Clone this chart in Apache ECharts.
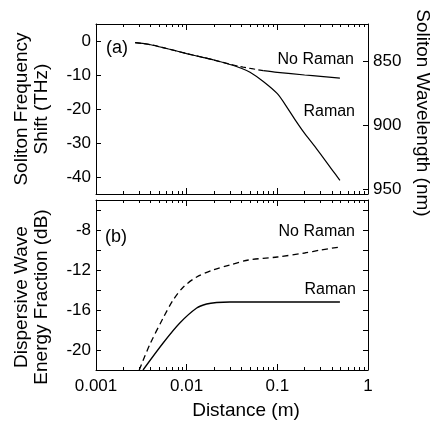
<!DOCTYPE html>
<html><head><meta charset="utf-8">
<script src="https://cdn.jsdelivr.net/npm/echarts@6/dist/echarts.min.js"></script>
<style>html,body{margin:0;padding:0;background:#fff}#c{width:430px;height:422px}</style>
</head><body><div id="c"></div>
<script>
// ---- tick values / labels ----
const distTicks = [0.001, 0.01, 0.1, 1];
const freqTicks = [0, -10, -20, -30, -40];
const wavelengthTicks = [850, 900, 950];
const energyTicks = [-20, -16, -12, -8];
const energyMinorTicks = [-22, -20, -18, -16, -14, -12, -10, -8, -6];

// ---- (a) soliton frequency shift (THz) vs distance (m) ----
const topRamanD = [0.0027, 0.004, 0.006, 0.01, 0.015, 0.02, 0.03, 0.04, 0.05, 0.07, 0.1, 0.13, 0.16, 0.2, 0.25, 0.3, 0.4, 0.49];
const topRamanV = [-0.5, -1.1, -2.2, -3.7, -4.8, -5.6, -6.9, -8.0, -9.2, -11.9, -15.5, -19.8, -23.5, -27.2, -30.5, -33.3, -37.8, -41.0];
const topNoRamanD = [0.0027, 0.004, 0.006, 0.01, 0.015, 0.02, 0.03, 0.042, 0.07, 0.1, 0.2, 0.3, 0.49];
const topNoRamanV = [-0.5, -1.1, -2.2, -3.7, -4.8, -5.6, -6.8, -7.7, -8.7, -9.2, -10.0, -10.4, -10.9];

// ---- (b) dispersive wave energy fraction (dB) vs distance (m) ----
const botNoRamanD = [0.003, 0.0039, 0.0055, 0.0071, 0.0092, 0.0129, 0.0196, 0.03, 0.048, 0.1, 0.2, 0.3, 0.49];
const botNoRamanV = [-22.0, -19.5, -16.8, -15.0, -13.7, -12.7, -12.0, -11.5, -11.0, -10.7, -10.3, -10.0, -9.7];
const botRamanD = [0.0033, 0.0055, 0.0084, 0.0129, 0.0166, 0.0214, 0.03, 0.1, 0.49];
const botRamanV = [-22.0, -19.3, -17.3, -15.8, -15.4, -15.25, -15.2, -15.2, -15.2];

const pairs = (xs, ys) => xs.map((x, i) => [x, ys[i]]);

// minor log tick positions (log10 space) for tick-only axes
const minorLog = [];
for (let n = -3; n < 0; n++) for (let k = 2; k <= 9; k++) minorLog.push(Math.log10(k * Math.pow(10, n)));

const FONT = '"Liberation Sans", Arial, Helvetica, sans-serif';
const lineSt = { color: '#000', width: 1 };
const axisLineOn = { show: true, onZero: false, lineStyle: lineSt };
const nameSt = { color: '#000', fontSize: 19, fontFamily: FONT, lineHeight: 20 };

function majorX(grid, pos, labels) {
  const ax = {
    gridIndex: grid, type: 'log', logBase: 10, min: distTicks[0], max: distTicks[distTicks.length - 1],
    position: pos, axisLine: axisLineOn,
    axisTick: { show: true, inside: true, length: 6, lineStyle: lineSt },
    axisLabel: labels ? { show: true, margin: 8, color: '#000', fontSize: 17, fontFamily: FONT,
      formatter: v => String(Number(Number(v).toPrecision(3))) } : { show: false },
    splitLine: { show: false }, minorTick: { show: false }
  };
  if (labels) {
    ax.name = 'Distance (m)';
    ax.nameLocation = 'middle';
    ax.nameGap = 31;
    ax.nameTextStyle = Object.assign({ padding: [0, 0, 0, 28] }, nameSt);
  }
  return ax;
}
function minorX(grid, pos) {
  return {
    gridIndex: grid, type: 'value', min: -3, max: 0, position: pos,
    axisLine: { show: false, onZero: false },
    axisTick: { show: true, inside: true, length: 3, lineStyle: lineSt, customValues: minorLog },
    axisLabel: { show: false }, splitLine: { show: false }
  };
}
const labelSt = { color: '#000', fontSize: 17, fontFamily: FONT };

const option = {
  animation: false,
  backgroundColor: '#fff',
  grid: [
    { left: 96, top: 24, width: 272, height: 170, outerBoundsMode: 'none' },
    { left: 96, top: 200, width: 272, height: 170, outerBoundsMode: 'none' }
  ],
  xAxis: [
    majorX(0, 'bottom', false), majorX(0, 'top', false), minorX(0, 'bottom'), minorX(0, 'top'),
    majorX(1, 'bottom', true), majorX(1, 'top', false), minorX(1, 'bottom'), minorX(1, 'top')
  ],
  yAxis: [
    { gridIndex: 0, type: 'value', position: 'left', min: -45, max: 5, axisLine: axisLineOn,
      name: 'Soliton Frequency\nShift (THz)', nameLocation: 'middle', nameRotate: 90, nameGap: 44,
      nameTextStyle: nameSt,
      axisTick: { show: true, inside: true, length: 5, lineStyle: lineSt, customValues: freqTicks },
      axisLabel: Object.assign({ margin: 5, customValues: freqTicks }, labelSt), splitLine: { show: false } },
    { gridIndex: 0, type: 'value', position: 'right', inverse: true, min: 821.1, max: 953.9, axisLine: axisLineOn,
      name: 'Soliton Wavelength (nm)', nameLocation: 'middle', nameRotate: -90, nameGap: 42,
      nameTextStyle: Object.assign({ padding: [0, 0, 0, 8] }, nameSt),
      axisTick: { show: true, inside: true, length: 5, lineStyle: lineSt, customValues: wavelengthTicks },
      axisLabel: Object.assign({ margin: 5, customValues: wavelengthTicks }, labelSt), splitLine: { show: false } },
    { gridIndex: 1, type: 'value', position: 'left', min: -22, max: -5, axisLine: axisLineOn,
      name: 'Dispersive Wave\nEnergy Fraction (dB)', nameLocation: 'middle', nameRotate: 90, nameGap: 44,
      nameTextStyle: Object.assign({ padding: [0, 24, 0, 0] }, nameSt),
      axisTick: { show: true, inside: true, length: 5, lineStyle: lineSt, customValues: energyMinorTicks },
      axisLabel: Object.assign({ margin: 5, customValues: energyTicks }, labelSt), splitLine: { show: false } },
    { gridIndex: 1, type: 'value', position: 'right', min: -22, max: -5, axisLine: axisLineOn,
      axisTick: { show: true, inside: true, length: 5, lineStyle: lineSt, customValues: energyMinorTicks },
      axisLabel: { show: false }, splitLine: { show: false } }
  ],
  series: [
    { name: 'Raman (a)', type: 'line', xAxisIndex: 0, yAxisIndex: 0, data: pairs(topRamanD, topRamanV),
      symbol: 'none', smooth: 0.3, lineStyle: { color: '#000', width: 1.2 } },
    { name: 'No Raman (a) dashed', type: 'line', xAxisIndex: 0, yAxisIndex: 0,
      data: pairs(topNoRamanD, topNoRamanV).slice(0, 9),
      symbol: 'none', smooth: 0.3, lineStyle: { color: '#000', width: 1.2, type: [6, 3] } },
    { name: 'No Raman (a)', type: 'line', xAxisIndex: 0, yAxisIndex: 0,
      data: pairs(topNoRamanD, topNoRamanV).slice(8),
      symbol: 'none', smooth: 0.3, lineStyle: { color: '#000', width: 1.2 } },
    { name: 'No Raman (b)', type: 'line', xAxisIndex: 4, yAxisIndex: 2, data: pairs(botNoRamanD, botNoRamanV),
      symbol: 'none', smooth: 0.3, lineStyle: { color: '#000', width: 1.3, type: [6, 4] } },
    { name: 'Raman (b)', type: 'line', xAxisIndex: 4, yAxisIndex: 2, data: pairs(botRamanD, botRamanV),
      symbol: 'none', smooth: 0.3, lineStyle: { color: '#000', width: 1.3 } }
  ],
  graphic: [
    { type: 'text', x: 106, y: 48,
      style: { text: '(a)', align: 'left', verticalAlign: 'middle', font: '18px ' + FONT, fill: '#000' } },
    { type: 'text', x: 105, y: 237,
      style: { text: '(b)', align: 'left', verticalAlign: 'middle', font: '18px ' + FONT, fill: '#000' } },
    { type: 'text', x: 354, y: 60,
      style: { text: 'No Raman', align: 'right', verticalAlign: 'middle', font: '16px ' + FONT, fill: '#000' } },
    { type: 'text', x: 355, y: 112,
      style: { text: 'Raman', align: 'right', verticalAlign: 'middle', font: '16px ' + FONT, fill: '#000' } },
    { type: 'text', x: 355, y: 232,
      style: { text: 'No Raman', align: 'right', verticalAlign: 'middle', font: '16px ' + FONT, fill: '#000' } },
    { type: 'text', x: 356, y: 290,
      style: { text: 'Raman', align: 'right', verticalAlign: 'middle', font: '16px ' + FONT, fill: '#000' } }
  ]
};
const chart = echarts.init(document.getElementById('c'), null, { renderer: 'canvas' });
chart.setOption(option);
</script></body></html>
